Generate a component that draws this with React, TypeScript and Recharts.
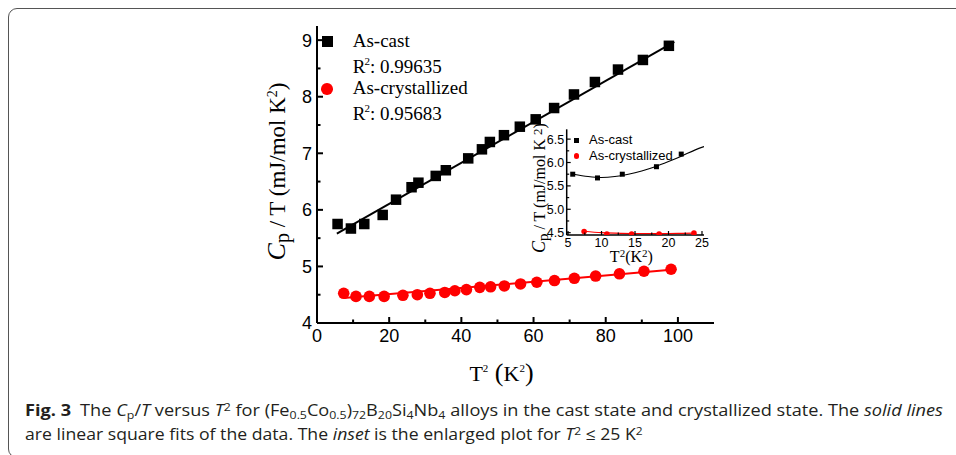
import React, { useLayoutEffect, useRef, useState } from "react";
import { ComposedChart, Scatter, Line, XAxis, YAxis, Legend } from "recharts";

// values
const castT2 = [5.7, 9.4, 13.1, 18.2, 21.9, 26.2, 28.1, 32.9, 35.7, 41.9, 45.7, 47.9, 51.8, 56.2, 60.6, 65.7, 71.2, 77.0, 83.4, 90.3, 97.5];
const castCp = [5.75, 5.67, 5.75, 5.91, 6.18, 6.4, 6.48, 6.6, 6.7, 6.91, 7.07, 7.2, 7.32, 7.47, 7.6, 7.8, 8.04, 8.26, 8.48, 8.65, 8.9];
const crystT2 = [7.4, 10.8, 14.5, 18.6, 23.8, 27.8, 31.3, 35.4, 38.2, 41.4, 45.1, 48.1, 51.9, 56.4, 60.9, 65.8, 71.3, 77.2, 83.8, 90.6, 98.1];
const crystCp = [4.525, 4.47, 4.47, 4.47, 4.49, 4.5, 4.525, 4.54, 4.57, 4.59, 4.63, 4.64, 4.655, 4.69, 4.72, 4.75, 4.79, 4.83, 4.87, 4.915, 4.95];

// linear fits (end points)
const castFitT2 = [5.5, 99];
const castFitCp = [5.58, 8.97];
const crystFitT2 = [7.4, 98.1];
const crystFitCp = [4.44, 4.94];

// inset fit curves
const insetCastFitT2 = [5.8, 8, 10, 12, 14, 16, 18, 20, 22, 24, 25.3];
const insetCastFitCp = [5.75, 5.7, 5.68, 5.7, 5.75, 5.82, 5.91, 6.02, 6.14, 6.27, 6.34];
const insetCrystFitT2 = [7.4, 10, 13, 16, 19, 22, 24];
const insetCrystFitCp = [4.53, 4.5, 4.485, 4.48, 4.48, 4.485, 4.49];

const mainXTicks = [0, 10, 20, 30, 40, 50, 60, 70, 80, 90, 100];
const mainYTicks = [4, 4.5, 5, 5.5, 6, 6.5, 7, 7.5, 8, 8.5, 9];
const insetXTicks = [5, 7.5, 10, 12.5, 15, 17.5, 20, 22.5, 25];
const insetYTicks = [4.5, 4.75, 5, 5.25, 5.5, 5.75, 6, 6.25, 6.5];

const SERIF = "'Liberation Serif', 'Times New Roman', serif";
const SANS = "'Liberation Sans', Arial, sans-serif";
const RED = "#ff0000";

const toPoints = (xs: number[], ys: number[]) => xs.map((x, i) => ({ x, y: ys[i] }));

const castPts = toPoints(castT2, castCp);
const crystPts = toPoints(crystT2, crystCp);
const castFit = toPoints(castFitT2, castFitCp);
const crystFit = toPoints(crystFitT2, crystFitCp);
const insetCastPts = castPts.filter((p) => p.x <= 25);
const insetCrystPts = crystPts.filter((p) => p.x <= 25);
const insetCastFit = toPoints(insetCastFitT2, insetCastFitCp);
const insetCrystFit = toPoints(insetCrystFitT2, insetCrystFitCp);

const isMult = (v: number, step: number) => Math.abs(v / step - Math.round(v / step)) < 1e-6;

type TickOpts = {
  side: "bottom" | "top" | "left" | "right";
  step: number;
  len: number;
  minorLen: number;
  width: number;
  fontSize?: number;
  gap?: number;
  fmt?: (v: number) => string;
};

function makeTick(o: TickOpts) {
  return (props: any) => {
    const { x, y, payload } = props;
    const v = payload.value as number;
    const major = isMult(v, o.step);
    const l = major ? o.len : o.minorLen;
    let x2 = x;
    let y2 = y;
    if (o.side === "bottom") y2 = y - l;
    if (o.side === "top") y2 = y + l;
    if (o.side === "left") x2 = x + l;
    if (o.side === "right") x2 = x - l;
    let label = null;
    if (major && o.fmt) {
      if (o.side === "bottom") {
        label = (
          <text x={x} y={y + (o.gap ?? 0)} textAnchor="middle" fontFamily={SANS} fontSize={o.fontSize} fill="#000">
            {o.fmt(v)}
          </text>
        );
      } else if (o.side === "left") {
        label = (
          <text x={x - (o.gap ?? 0)} y={y + (o.fontSize ?? 12) * 0.36} textAnchor="end" fontFamily={SANS} fontSize={o.fontSize} fill="#000">
            {o.fmt(v)}
          </text>
        );
      }
    }
    return (
      <g>
        <line x1={x} y1={y} x2={x2} y2={y2} stroke="#000" strokeWidth={o.width} />
        {label}
      </g>
    );
  };
}

const MainYLabel = (props: any) => {
  const vb = props.viewBox || { x: 257, y: 26, width: 60, height: 297 };
  const cx = vb.x + 20;
  const cy = vb.y + vb.height / 2 - 3;
  return (
    <text
      x={cx}
      y={cy + 7.5}
      transform={`rotate(-90 ${cx} ${cy})`}
      textAnchor="middle"
      fontFamily={SERIF}
      fontSize={23}
      fill="#000"
    >
      <tspan fontStyle="italic" fontSize={26}>C</tspan>
      <tspan dy={4} fontSize={20}>p</tspan>
      <tspan dy={-4}> / T (mJ/mol K</tspan>
      <tspan dy={-8} fontSize={14}>2</tspan>
      <tspan dy={8}>)</tspan>
    </text>
  );
};

const MainXLabel = (props: any) => {
  const vb = props.viewBox || { x: 317, y: 323, width: 397, height: 60 };
  const cx = vb.x + vb.width / 2 - 14;
  const y = vb.y + 58;
  return (
    <text x={cx} y={y} textAnchor="middle" fontFamily={SERIF} fontSize={22} fill="#000">
      <tspan>T</tspan>
      <tspan dy={-9} fontSize={11}>2</tspan>
      <tspan dy={9} fontSize={26}> (</tspan>
      <tspan>K</tspan>
      <tspan dy={-9} fontSize={11}>2</tspan>
      <tspan dy={9} fontSize={26}>)</tspan>
    </text>
  );
};

const InsetYLabel = (props: any) => {
  const vb = props.viewBox || { x: 521.7, y: 129.3, width: 45, height: 105.7 };
  const cx = vb.x + 17.5;
  const cy = vb.y + vb.height / 2 + 6;
  return (
    <text
      x={cx}
      y={cy + 5.5}
      transform={`rotate(-90 ${cx} ${cy})`}
      textAnchor="middle"
      fontFamily={SERIF}
      fontSize={16}
      fill="#000"
    >
      <tspan fontStyle="italic" fontSize={18}>C</tspan>
      <tspan dy={3} fontSize={15}>p</tspan>
      <tspan dy={-3}> / T (mJ/mol K </tspan>
      <tspan dy={-3} fontSize={13}>2</tspan>
      <tspan dy={3}>)</tspan>
    </text>
  );
};

const InsetXLabel = (props: any) => {
  const vb = props.viewBox || { x: 566.7, y: 235, width: 137.3, height: 35 };
  const cx = vb.x + vb.width / 2 - 4;
  const y = vb.y + 27;
  return (
    <text x={cx} y={y} textAnchor="middle" fontFamily={SERIF} fontSize={16} fill="#000">
      <tspan>T</tspan>
      <tspan dy={-5} fontSize={11}>2</tspan>
      <tspan dy={5}>(K</tspan>
      <tspan dy={-5} fontSize={11}>2</tspan>
      <tspan dy={5}>)</tspan>
    </text>
  );
};

const Square = (size: number, fill: string) => (props: any) => {
  const { cx, cy } = props;
  return <rect x={cx - size / 2} y={cy - size / 2} width={size} height={size} fill={fill} />;
};

const Dot = (r: number, fill: string) => (props: any) => {
  const { cx, cy } = props;
  return <circle cx={cx} cy={cy} r={r} fill={fill} />;
};

const Sup = ({ children }: { children: React.ReactNode }) => (
  <span style={{ fontSize: 11, position: "relative", top: -8, marginLeft: -1 }}>{children}</span>
);

const MainLegendBox = () => (
  <div style={{ position: "relative", width: 190, height: 100, fontFamily: SERIF, fontSize: 19, color: "#000", lineHeight: "22px" }}>
    <div style={{ position: "absolute", left: 4, top: 8, width: 10.5, height: 10.5, background: "#000" }} />
    <div style={{ position: "absolute", left: 34.7, top: 2, whiteSpace: "nowrap" }}>As-cast</div>
    <div style={{ position: "absolute", left: 34.7, top: 28, whiteSpace: "nowrap" }}>
      R<Sup>2</Sup>: 0.99635
    </div>
    <div style={{ position: "absolute", left: 3.2, top: 55.2, width: 11.6, height: 11.6, borderRadius: "50%", background: RED }} />
    <div style={{ position: "absolute", left: 34.7, top: 49, whiteSpace: "nowrap" }}>As-crystallized</div>
    <div style={{ position: "absolute", left: 34.7, top: 74.5, whiteSpace: "nowrap" }}>
      R<Sup>2</Sup>: 0.95683
    </div>
  </div>
);

const InsetLegendBox = () => (
  <div style={{ position: "relative", width: 120, height: 34, fontFamily: SANS, fontSize: 13, color: "#000", lineHeight: "16px" }}>
    <div style={{ position: "absolute", left: 4.2, top: 6.2, width: 5, height: 5, background: "#000" }} />
    <div style={{ position: "absolute", left: 19, top: 0, whiteSpace: "nowrap" }}>As-cast</div>
    <div style={{ position: "absolute", left: 3.9, top: 21.2, width: 5.6, height: 5.6, borderRadius: "50%", background: RED }} />
    <div style={{ position: "absolute", left: 19, top: 16, whiteSpace: "nowrap" }}>As-crystallized</div>
  </div>
);

function FitLine({ width, left, top, children }: { width: number; left: number; top: number; children: React.ReactNode }) {
  const ref = useRef<HTMLDivElement>(null);
  const [k, setK] = useState(1);
  useLayoutEffect(() => {
    if (ref.current) setK(width / ref.current.scrollWidth);
  }, [width]);
  return (
    <div
      ref={ref}
      style={{
        position: "absolute",
        left,
        top,
        whiteSpace: "nowrap",
        fontFamily: "'Open Sans', 'Noto Sans', sans-serif",
        fontSize: 16.4,
        lineHeight: "20px",
        color: "#231f20",
        transform: `scaleX(${k})`,
        transformOrigin: "left top",
      }}
    >
      {children}
    </div>
  );
}

const Sb = ({ children }: { children: React.ReactNode }) => (
  <span style={{ fontSize: "0.68em", position: "relative", top: "0.3em" }}>{children}</span>
);
const Sp = ({ children }: { children: React.ReactNode }) => (
  <span style={{ fontSize: "0.68em", position: "relative", top: "-0.45em" }}>{children}</span>
);

export default function App() {
  return (
    <div style={{ position: "absolute", left: 0, top: 0, width: 956, height: 455, overflow: "hidden", background: "#fff" }}>
      <div
        style={{
          position: "absolute",
          left: 8,
          top: 8,
          width: 1100,
          height: 450,
          border: "1.5px solid #555",
          borderRadius: 9,
          boxSizing: "border-box",
        }}
      />
      <div style={{ position: "absolute", left: 0, top: 0 }}>
        <ComposedChart width={956} height={455} margin={{ top: 26, right: 242, bottom: 72, left: 257 }}>
          <XAxis
            xAxisId={0}
            dataKey="x"
            type="number"
            domain={[0, 110]}
            allowDataOverflow
            ticks={mainXTicks}
            interval={0}
            height={60}
            tickSize={0}
            tickMargin={0}
            axisLine={{ stroke: "#000", strokeWidth: 2 }}
            tickLine={false}
            tick={makeTick({ side: "bottom", step: 20, len: 6, minorLen: 3.5, width: 2, fontSize: 18, gap: 18.5, fmt: (v) => String(v) })}
            label={<MainXLabel />}
          />
          <XAxis
            xAxisId="top"
            orientation="top"
            dataKey="x"
            type="number"
            domain={[0, 110]}
            allowDataOverflow
            ticks={mainXTicks}
            interval={0}
            height={0}
            tickSize={0}
            tickMargin={0}
            axisLine={{ stroke: "#000", strokeWidth: 2 }}
            tickLine={false}
            tick={makeTick({ side: "top", step: 20, len: 6, minorLen: 3.5, width: 2 })}
          />
          <YAxis
            yAxisId={0}
            dataKey="y"
            type="number"
            domain={[4, 9.25]}
            allowDataOverflow
            ticks={mainYTicks}
            interval={0}
            width={60}
            tickSize={0}
            tickMargin={0}
            axisLine={{ stroke: "#000", strokeWidth: 2 }}
            tickLine={false}
            tick={makeTick({ side: "left", step: 1, len: 6, minorLen: 3.5, width: 2, fontSize: 18, gap: 5, fmt: (v) => String(v) })}
            label={<MainYLabel />}
          />
          <YAxis
            yAxisId="right"
            orientation="right"
            dataKey="y"
            type="number"
            domain={[4, 9.25]}
            allowDataOverflow
            ticks={mainYTicks}
            interval={0}
            width={0}
            tickSize={0}
            tickMargin={0}
            axisLine={{ stroke: "#000", strokeWidth: 2 }}
            tickLine={false}
            tick={makeTick({ side: "right", step: 1, len: 6, minorLen: 3.5, width: 2 })}
          />
          <Line data={castFit} dataKey="y" type="linear" stroke="#000" strokeWidth={2} dot={false} isAnimationActive={false} />
          <Line data={crystFit} dataKey="y" type="linear" stroke={RED} strokeWidth={2} dot={false} isAnimationActive={false} />
          <Scatter data={castPts} dataKey="y" shape={Square(10.5, "#000")} isAnimationActive={false} />
          <Scatter data={crystPts} dataKey="y" shape={Dot(5.8, RED)} isAnimationActive={false} />
          <Legend
            layout="vertical"
            align="center"
            verticalAlign="middle"
            content={() => <MainLegendBox />}
            wrapperStyle={{ left: 318, top: 28, width: 190, height: 100 }}
          />
        </ComposedChart>
      </div>

      <div style={{ position: "absolute", left: 500, top: 110 }}>
        <ComposedChart width={220} height={170} margin={{ top: 19.3, right: 16, bottom: 10, left: 21.7 }}>
          <XAxis
            xAxisId={0}
            dataKey="x"
            type="number"
            domain={[4.8, 25.3]}
            allowDataOverflow
            ticks={insetXTicks}
            interval={0}
            height={35}
            tickSize={0}
            tickMargin={0}
            axisLine={{ stroke: "#000", strokeWidth: 1.5 }}
            tickLine={false}
            tick={makeTick({ side: "bottom", step: 5, len: 4, minorLen: 2.5, width: 1.2, fontSize: 12.5, gap: 11.5, fmt: (v) => String(v) })}
            label={<InsetXLabel />}
          />
          <XAxis
            xAxisId="top"
            orientation="top"
            dataKey="x"
            type="number"
            domain={[4.8, 25.3]}
            allowDataOverflow
            ticks={insetXTicks}
            interval={0}
            height={0}
            tickSize={0}
            tickMargin={0}
            axisLine={{ stroke: "#000", strokeWidth: 1.5 }}
            tickLine={false}
            tick={makeTick({ side: "top", step: 5, len: 4, minorLen: 2.5, width: 1.2 })}
          />
          <YAxis
            yAxisId={0}
            dataKey="y"
            type="number"
            domain={[4.45, 6.71]}
            allowDataOverflow
            ticks={insetYTicks}
            interval={0}
            width={45}
            tickSize={0}
            tickMargin={0}
            axisLine={{ stroke: "#000", strokeWidth: 1.5 }}
            tickLine={false}
            tick={makeTick({ side: "left", step: 0.5, len: 4, minorLen: 2.5, width: 1.2, fontSize: 12.5, gap: 2.5, fmt: (v) => v.toFixed(1) })}
            label={<InsetYLabel />}
          />
          <YAxis
            yAxisId="right"
            orientation="right"
            dataKey="y"
            type="number"
            domain={[4.45, 6.71]}
            allowDataOverflow
            ticks={insetYTicks}
            interval={0}
            width={0}
            tickSize={0}
            tickMargin={0}
            axisLine={{ stroke: "#000", strokeWidth: 1.5 }}
            tickLine={false}
            tick={makeTick({ side: "right", step: 0.5, len: 4, minorLen: 2.5, width: 1.2 })}
          />
          <Line data={insetCastFit} dataKey="y" type="monotone" stroke="#000" strokeWidth={1.1} dot={false} isAnimationActive={false} />
          <Line data={insetCrystFit} dataKey="y" type="monotone" stroke={RED} strokeWidth={1.1} dot={false} isAnimationActive={false} />
          <Scatter data={insetCastPts} dataKey="y" shape={Square(5, "#000")} isAnimationActive={false} />
          <Scatter data={insetCrystPts} dataKey="y" shape={Dot(2.8, RED)} isAnimationActive={false} />
          <Legend
            layout="vertical"
            align="center"
            verticalAlign="middle"
            content={() => <InsetLegendBox />}
            wrapperStyle={{ left: 70, top: 22, width: 120, height: 34 }}
          />
        </ComposedChart>
      </div>

      <FitLine left={25} top={400} width={918}>
        <b>Fig. 3</b>
        {"\u2002The "}
        <i>C</i>
        <Sb>p</Sb>/<i>T</i> versus <i>T</i>
        <Sp>2</Sp> for (Fe<Sb>0.5</Sb>Co<Sb>0.5</Sb>)<Sb>72</Sb>B<Sb>20</Sb>Si<Sb>4</Sb>Nb<Sb>4</Sb> alloys in the cast state and crystallized state. The <i>solid lines</i>
      </FitLine>
      <FitLine left={25} top={423.6} width={618}>
        are linear square fits of the data. The <i>inset</i> is the enlarged plot for <i>T</i>
        <Sp>2</Sp> ≤ 25 K<Sp>2</Sp>
      </FitLine>
    </div>
  );
}
